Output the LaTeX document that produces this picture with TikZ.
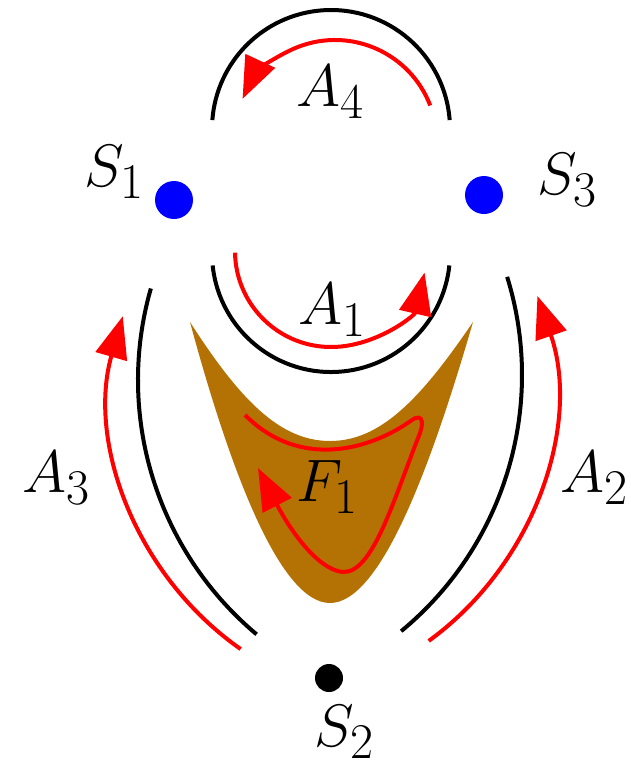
\documentclass[tikz,border=0pt]{standalone}
\usetikzlibrary{arrows.meta}
\definecolor{fbrown}{RGB}{181,114,4}
\begin{document}
\begin{tikzpicture}[x=1pt,y=1pt,
  blk/.style={black,line width=4pt},
  redarr/.style={red,line width=4pt,-{Triangle[length=42pt,width=32pt]}},
  lbl/.style={font=\Huge,scale=2.41,inner sep=0pt}]
\useasboundingbox (0,0) rectangle (631,-764);
% F1 region
\fill[fbrown] (190,-322) .. controls (230,-470) and (280,-603) .. (330,-603)
  .. controls (380,-603) and (430,-470) .. (473,-322)
  .. controls (420,-400) and (380,-441) .. (330,-441)
  .. controls (280,-441) and (240,-400) .. (190,-322) -- cycle;
\draw[redarr] (245,-415) .. controls (300,-470) and (370,-450) .. (412,-420)
  .. controls (424,-412) and (424,-425) .. (418,-438)
  .. controls (392,-505) and (372,-573) .. (343,-572)
  .. controls (318,-570) and (290,-530) .. (258,-468);
% centers
\coordinate (ctop) at (331,-129);
\coordinate (clow) at (331,-253);
\coordinate (cleft) at (470,-380);
\coordinate (cright) at (190,-375);
\coordinate (rtop) at (335,-142);
\coordinate (rlow) at (331,-251);
\coordinate (rleft) at (415,-400);
\coordinate (rright) at (250,-395);
% black arcs
\draw[blk] ([shift={(4.3:119)}]ctop) arc[start angle=4.3,end angle=175.7,radius=119pt];
\draw[blk] ([shift={(186:119)}]clow) arc[start angle=186,end angle=354,radius=119pt];
\draw[blk] ([shift={(164:332)}]cleft) arc[start angle=164,end angle=230,radius=332pt];
\draw[blk] ([shift={(-50.5:332)}]cright) arc[start angle=-50.5,end angle=17.2,radius=332pt];
% red arcs
\draw[redarr] ([shift={(21:102)}]rtop) arc[start angle=21,end angle=155,radius=102pt];
\draw[redarr] ([shift={(181:96)}]rlow) arc[start angle=181,end angle=347,radius=96pt];
\draw[redarr] ([shift={(235:304)}]rleft) arc[start angle=235,end angle=164,radius=304pt];
\draw[redarr] ([shift={(-54:304)}]rright) arc[start angle=-54,end angle=19,radius=304pt];
% dots
\fill[blue] (174,-200) circle[radius=19pt] coordinate (s1dot);
\fill[blue] (484,-195) circle[radius=19pt] coordinate (s3dot);
\fill[black] (329,-678) circle[radius=14pt] coordinate (s2dot);
% labels
\node[lbl] (S1) at (115,-172) {$S_1$};
\node[lbl] (S3) at (568,-180) {$S_3$};
\node[lbl] (S2) at (345,-732) {$S_2$};
\node[lbl] (A4) at (331,-92) {$A_4$};
\node[lbl] (A1) at (333,-310) {$A_1$};
\node[lbl] (A3) at (57,-478) {$A_3$};
\node[lbl] (A2) at (595,-478) {$A_2$};
\node[lbl] (F1) at (328,-487) {$F_1$};
\end{tikzpicture}
\end{document}
